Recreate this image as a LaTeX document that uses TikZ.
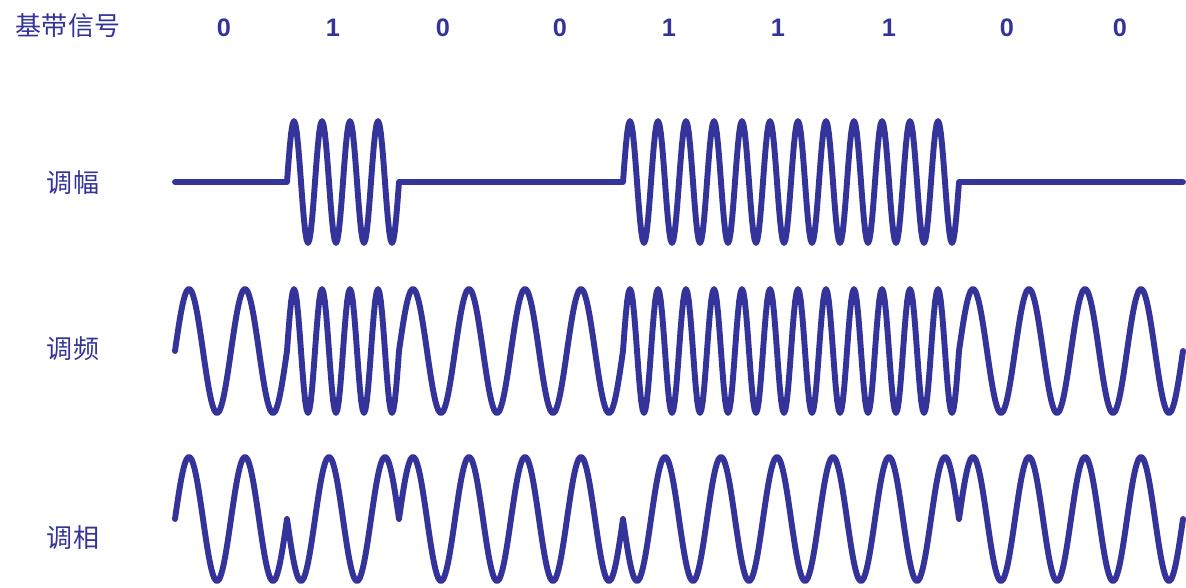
\documentclass[tikz,border=0pt]{standalone}
\usepackage{fontspec}
\setmainfont{Liberation Sans}
\newfontfamily\cjk{Noto Sans CJK SC}
\definecolor{wave}{RGB}{51,51,153}
\begin{document}
\begin{tikzpicture}[x=0.025cm, y=-0.025cm,
  every node/.style={text=wave, inner sep=0pt},
  signal/.style={wave, line width=4.2pt, line join=round, line cap=round},
  title/.style={font=\cjk\fontsize{18.5}{20}\selectfont},
  bit/.style={font=\bfseries\fontsize{18}{20}\selectfont}]
\useasboundingbox (0,0) rectangle (1186,587);

% 基带信号
\node[title] (base) at (68,26) {基带信号};
\foreach \b/\p [count=\i] in {0/224,1/333,0/443,0/560,1/669,1/778,1/889,0/1007,0/1120}
  \node[bit] (b\i) at (\p,28) {\b};

% 调幅
\node[title] (am) at (73,183) {调幅};
\draw[signal] (177,182) \foreach \b [count=\i from 0] in {0,1,0,0,1,1,1,0,0}
  { -- plot[domain=0:112, samples=81] ({175+112*\i+\x},{182-61*\b*sin(\x*90/7)}) };

% 调频
\node[title] (fm) at (73,349) {调频};
\draw[signal] (175,351) \foreach \b [count=\i from 0] in {0,1,0,0,1,1,1,0,0}
  { -- plot[domain=0:112, samples=81] ({175+112*\i+\x},{351-62*sin((1+\b)*\x*45/7)}) };

% 调相
\node[title] (pm) at (73,538) {调相};
\draw[signal] (175,519) \foreach \b [count=\i from 0] in {0,1,0,0,1,1,1,0,0}
  { -- plot[domain=0:112, samples=81] ({175+112*\i+\x},{519-62*(1-2*\b)*sin(\x*45/7)}) };
\end{tikzpicture}
\end{document}
